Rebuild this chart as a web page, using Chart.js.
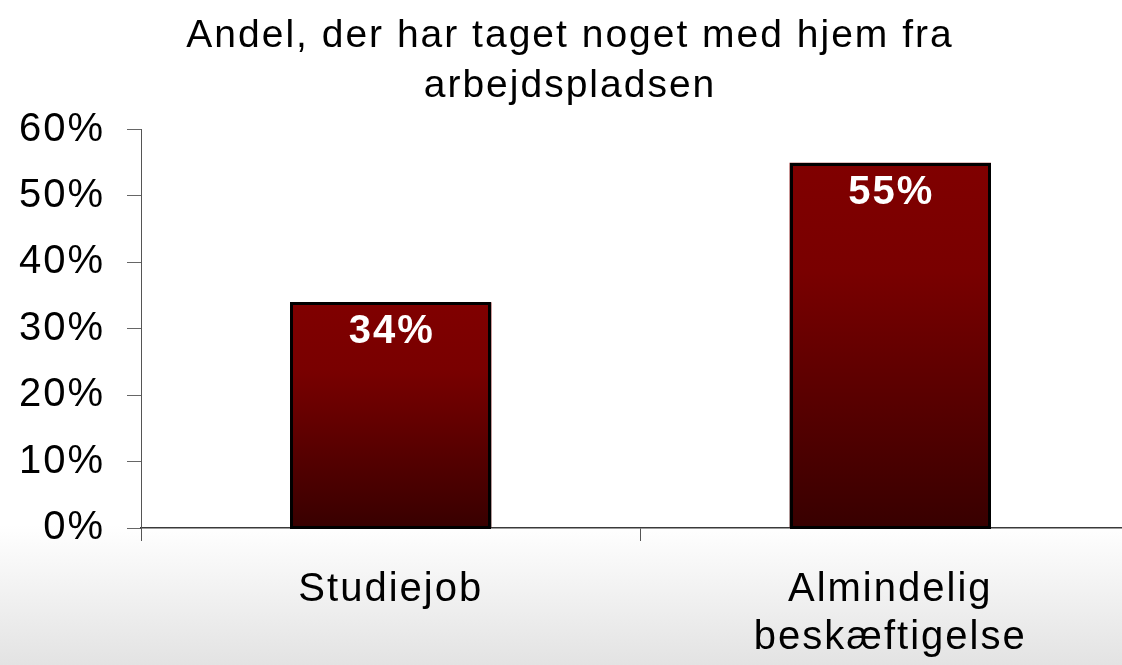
<!DOCTYPE html>
<html>
<head>
<meta charset="utf-8">
<script src="https://cdn.jsdelivr.net/npm/chart.js@4"></script>
<style>
  html, body { margin: 0; padding: 0; width: 1122px; height: 665px; overflow: hidden; }
  body { background: linear-gradient(to bottom, #ffffff 0%, #ffffff 79%, #e3e3e3 100%); }
  canvas { display: block; }
</style>
</head>
<body>
<canvas id="c" width="1142" height="665"></canvas>
<script>
const titleLines = ['Andel, der har taget noget med hjem fra', 'arbejdspladsen'];
const categories = [['Studiejob'], ['Almindelig', 'beskæftigelse']];
const values = [34, 55];
const yTicks = [0, 10, 20, 30, 40, 50, 60];

const FONT = "'Liberation Sans', Arial, sans-serif";
const LS = '2px';

const spacingPlugin = {
  id: 'spacing',
  beforeUpdate(chart) { chart.ctx.letterSpacing = LS; },
  beforeLayout(chart) { chart.ctx.letterSpacing = LS; },
  beforeDraw(chart) { chart.ctx.letterSpacing = LS; }
};

const barDecor = {
  id: 'barDecor',
  afterDatasetsDraw(chart) {
    const ctx = chart.ctx;
    const meta = chart.getDatasetMeta(0);
    ctx.save();
    // borders
    ctx.strokeStyle = '#000000';
    ctx.lineWidth = 3;
    meta.data.forEach((el) => {
      const p = el.getProps(['x', 'y', 'base', 'width'], true);
      const l = Math.round(p.x - p.width / 2);
      const r = Math.round(p.x + p.width / 2);
      const t = Math.round(p.y);
      const b = Math.round(p.base);
      ctx.strokeRect(l + 1.5, t + 1.5, r - l - 3, b - t - 2);
    });
    // value labels
    ctx.letterSpacing = LS;
    ctx.font = 'bold 40px ' + FONT;
    ctx.fillStyle = '#ffffff';
    ctx.textAlign = 'center';
    ctx.textBaseline = 'middle';
    meta.data.forEach((el, i) => {
      ctx.fillText(values[i] + '%', el.x + 1, el.y + 30);
    });
    ctx.restore();
  }
};

function barGradient(context) {
  const chart = context.chart;
  if (!chart.chartArea) return '#700000';
  const y = chart.scales.y;
  const top = y.getPixelForValue(context.raw);
  const bottom = y.getPixelForValue(0);
  const g = chart.ctx.createLinearGradient(0, top, 0, bottom);
  g.addColorStop(0, '#800000');
  g.addColorStop(0.3, '#790000');
  g.addColorStop(1, '#380000');
  return g;
}

new Chart(document.getElementById('c'), {
  type: 'bar',
  data: {
    labels: categories,
    datasets: [{
      data: values,
      backgroundColor: barGradient,
      borderWidth: 0,
      inflateAmount: 0,
      barPercentage: 0.403,
      categoryPercentage: 1
    }]
  },
  options: {
    responsive: false,
    animation: false,
    layout: { padding: { top: 0, right: 2, bottom: 0, left: 0 } },
    plugins: {
      legend: { display: false },
      tooltip: { enabled: false },
      title: {
        display: true,
        text: titleLines,
        color: '#000000',
        font: { family: FONT, size: 39, weight: 'normal', lineHeight: 50 / 39 },
        padding: { top: 11, bottom: 18.5 }
      }
    },
    scales: {
      x: {
        afterFit(s) { s.height = 137; },
        border: { display: true, color: '#3a3a3a', width: 1.5 },
        grid: { display: true, drawOnChartArea: false, offset: true, tickLength: 13, color: '#555555', lineWidth: 1 },
        ticks: { color: '#000000', padding: 25, maxRotation: 0, autoSkip: false,
                 font: { family: FONT, size: 40, lineHeight: 48 / 40 } }
      },
      y: {
        min: 0,
        max: 60,
        afterFit(s) { s.width = 141; },
        afterBuildTicks(s) { s.ticks = yTicks.map(v => ({ value: v })); },
        border: { display: true, color: '#555555', width: 1 },
        grid: { display: true, drawOnChartArea: false, tickLength: 14, color: '#666666', lineWidth: 1 },
        ticks: { color: '#000000', padding: 22,
                 font: { family: FONT, size: 40 },
                 callback: v => v + '%' }
      }
    }
  },
  plugins: [spacingPlugin, barDecor]
});
</script>
</body>
</html>
